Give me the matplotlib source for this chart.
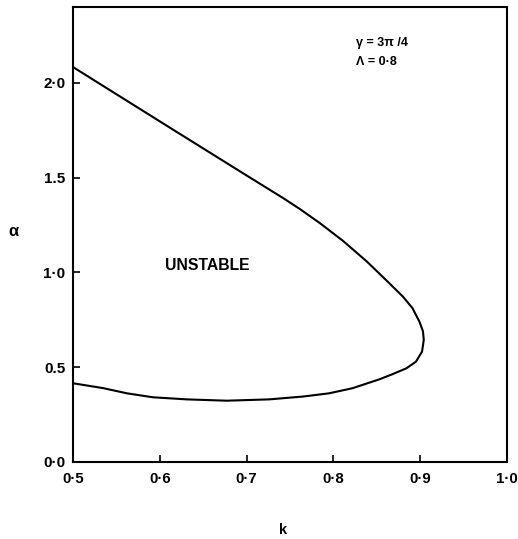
import numpy as np
import matplotlib.pyplot as plt
from matplotlib.ticker import FixedLocator

plt.rcParams['font.family'] = ['Liberation Sans', 'DejaVu Sans']

# Stability boundary (upper branch -> nose -> lower branch)
k_vals = [0.500, 0.611, 0.700, 0.742, 0.761, 0.784, 0.811, 0.838, 0.860, 0.880,
          0.891, 0.899, 0.903, 0.904, 0.902, 0.895, 0.884, 0.868, 0.853, 0.822,
          0.795, 0.765, 0.726, 0.677, 0.631, 0.592, 0.562, 0.535, 0.500]
alpha_vals = [2.083, 1.765, 1.511, 1.392, 1.335, 1.261, 1.166, 1.059, 0.962, 0.872,
              0.811, 0.740, 0.690, 0.644, 0.582, 0.529, 0.494, 0.463, 0.436, 0.389,
              0.362, 0.345, 0.330, 0.323, 0.330, 0.341, 0.362, 0.389, 0.415]

x_ticks = [0.5, 0.6, 0.7, 0.8, 0.9, 1.0]
x_labels = ['0·5', '0·6', '0·7', '0·8', '0·9', '1·0']
y_ticks = [0.0, 0.5, 1.0, 1.5, 2.0]
y_labels = ['0·0', '0.5', '1·0', '1.5', '2·0']

fig = plt.figure(figsize=(5.18, 5.39), dpi=100)
ax = fig.add_axes([0.141, 0.143, 0.838, 0.844])

ax.plot(k_vals, alpha_vals, color='black', lw=1.5, solid_joinstyle='round')

ax.set_xlim(0.5, 1.0)
ax.set_ylim(0.0, 2.4)
ax.xaxis.set_major_locator(FixedLocator(x_ticks))
ax.yaxis.set_major_locator(FixedLocator(y_ticks))
ax.set_xticklabels(x_labels, fontsize=10.8, fontweight='bold')
ax.set_yticklabels(y_labels, fontsize=11, fontweight='bold')
ax.tick_params(direction='in', length=5, width=1.2)
ax.tick_params(axis='x', pad=7)
ax.tick_params(axis='y', pad=5.5)
for s in ax.spines.values():
    s.set_linewidth(1.5)

ax.text(0.484, -0.149, 'k', transform=ax.transAxes, ha='center', va='center',
        fontsize=10.5, fontweight='bold')
ax.text(-0.138, 0.507, 'α', transform=ax.transAxes, ha='center', va='center',
        fontsize=12, fontweight='bold')

ax.text(0.655, 1.034, 'UNSTABLE', ha='center', va='center', fontsize=11.3,
        fontweight='bold')
ax.text(0.826, 2.21, 'γ = 3π /4', ha='left', va='center', fontsize=9,
        fontweight='bold')
ax.text(0.826, 2.11, 'Λ = 0·8', ha='left', va='center', fontsize=9,
        fontweight='bold')

fig.savefig('out.png', dpi=100)
